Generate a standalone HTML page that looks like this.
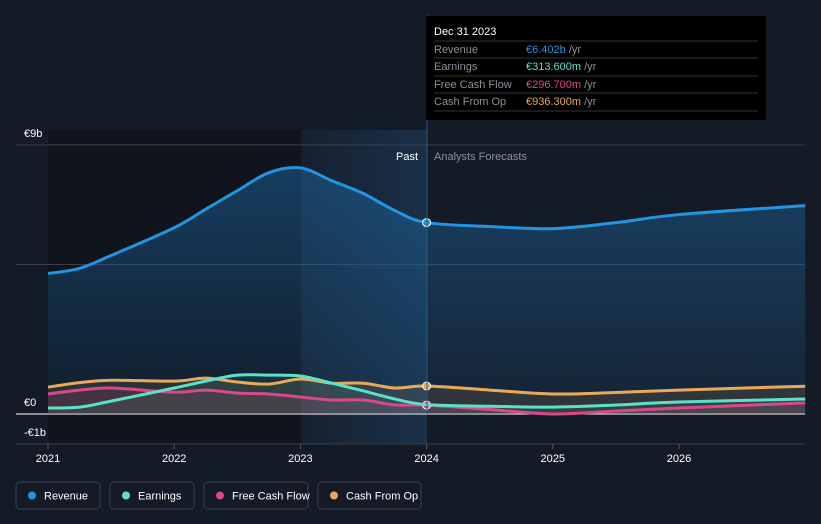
<!DOCTYPE html>
<html><head><meta charset="utf-8"><style>
body{margin:0;background:#151b26;font-family:"Liberation Sans",sans-serif;}
svg{display:block}
</style></head><body>
<svg width="821" height="524" id="chart">
<defs>
<linearGradient id="revg" x1="0" y1="0" x2="0" y2="1"><stop offset="0" stop-color="#1e6fb0" stop-opacity="0.45"/><stop offset="1" stop-color="#1e6fb0" stop-opacity="0.1"/></linearGradient>
<linearGradient id="pastg" x1="0" y1="0" x2="1" y2="0"><stop offset="0" stop-color="#2a7bc0" stop-opacity="0.06"/><stop offset="1" stop-color="#2a7bc0" stop-opacity="0.22"/></linearGradient>
</defs>
<rect x="48" y="130" width="253" height="314" fill="#10141c"/>
<rect x="301" y="130" width="126" height="314" fill="url(#pastg)"/>
<g id="grid"></g>
<g id="areas"></g>
<g id="lines"></g>
<line x1="427" y1="15" x2="427" y2="414" stroke="#2a5a80" stroke-width="1"/>
<text x="418" y="160" fill="#ffffff" font-size="11" text-anchor="end">Past</text>
<text x="434" y="160" fill="#8a909a" font-size="11">Analysts Forecasts</text>
<g>
<rect x="426" y="16" width="340" height="104" fill="#000000"/>
<text x="434" y="35" fill="#fff" font-size="11">Dec 31 2023</text>
<line x1="434" x2="758" y1="41" y2="41" stroke="#333"/>
<text x="434" y="53" fill="#8a909a" font-size="11">Revenue</text><text x="526" y="53" font-size="11" fill="#2394df">€6.402b <tspan fill="#8a909a">/yr</tspan></text>
<line x1="434" x2="758" y1="58" y2="58" stroke="#333"/>
<text x="434" y="70" fill="#8a909a" font-size="11">Earnings</text><text x="526" y="70" font-size="11" fill="#5de0c8">€313.600m <tspan fill="#8a909a">/yr</tspan></text>
<line x1="434" x2="758" y1="76" y2="76" stroke="#333"/>
<text x="434" y="88" fill="#8a909a" font-size="11">Free Cash Flow</text><text x="526" y="88" font-size="11" fill="#d9488a">€296.700m <tspan fill="#8a909a">/yr</tspan></text>
<line x1="434" x2="758" y1="93" y2="93" stroke="#333"/>
<text x="434" y="105" fill="#8a909a" font-size="11">Cash From Op</text><text x="526" y="105" font-size="11" fill="#e8a95a">€936.300m <tspan fill="#8a909a">/yr</tspan></text>
<line x1="434" x2="758" y1="111" y2="111" stroke="#333"/>
</g>
<g id="xaxis"></g>
<g id="legend"></g>
</svg>
<script>
const years=[2021,2021.25,2021.5,2022,2022.25,2022.5,2022.75,2023,2023.25,2023.5,2023.75,2024,2024.5,2025,2025.5,2026,2027];
const revenue=[4.7,4.87,5.3,6.23,6.85,7.47,8.07,8.23,7.8,7.37,6.8,6.402,6.27,6.2,6.4,6.67,6.97];
const earnings=[0.2,0.23,0.43,0.87,1.1,1.3,1.3,1.27,1.03,0.77,0.5,0.3136,0.26,0.23,0.3,0.4,0.5];
const fcf=[0.67,0.8,0.87,0.73,0.8,0.7,0.67,0.57,0.47,0.47,0.3,0.2967,0.15,0.0,0.1,0.2,0.37];
const cfo=[0.9,1.05,1.13,1.1,1.2,1.07,1.0,1.17,1.03,1.03,0.87,0.9363,0.8,0.67,0.72,0.8,0.93];
const yTicks=[9,0,-1];
const yTickLabels=["€9b","€0","-€1b"];
const xTicks=[2021,2022,2023,2024,2025,2026];
const NS="http://www.w3.org/2000/svg";
const X=v=>48+(v-2021)*126.2;
const Y=v=>414-v*29.9;
function el(t,a,p){const e=document.createElementNS(NS,t);for(const k in a)e.setAttribute(k,a[k]);p.appendChild(e);return e;}
const grid=document.getElementById('grid');
[9,5,0,-1].forEach(v=>{const l=el('line',{x1:16,x2:805,y1:Y(v),y2:Y(v),stroke:v===0?'#ffffff':'#3a404a','stroke-width':1},grid);

});
yTicks.forEach((v,i)=>{const t=el('text',{x:24,y:Y(v)-8,fill:'#fff','font-size':11},grid);t.textContent=yTickLabels[i];

});
function smooth(arr){const p=arr.map((v,i)=>[X(years[i]),Y(v)]);let d='M'+p[0].join(',');for(let i=0;i<p.length-1;i++){const p0=p[i-1]||p[i],p1=p[i],p2=p[i+1],p3=p[i+2]||p2;const c1=[p1[0]+(p2[0]-p0[0])/6,p1[1]+(p2[1]-p0[1])/6],c2=[p2[0]-(p3[0]-p1[0])/6,p2[1]-(p3[1]-p1[1])/6];d+='C'+c1.join(',')+' '+c2.join(',')+' '+p2.join(',');}return d;}
const areas=document.getElementById('areas'),lines=document.getElementById('lines');
const series=[[revenue,'#2394df','url(#revg)','revenue'],[cfo,'#e8a95a','rgba(232,169,90,0.12)','cash-from-op'],[fcf,'#d9488a','rgba(217,72,138,0.15)','free-cash-flow'],[earnings,'#5de0c8','rgba(93,224,200,0.08)','earnings']];
series.forEach(s=>{const d=smooth(s[0]);
const a=el('path',{d:d+'L'+X(2027)+','+Y(0)+'L'+X(2021)+','+Y(0)+'Z',fill:s[2]},areas);


const l=el('path',{d:d,fill:'none',stroke:s[1],'stroke-width':3},lines);


const i=years.indexOf(2024);
if(s[3]!=='earnings'){const c=el('circle',{cx:X(2024),cy:Y(s[0][i]),r:4,fill:s[1],stroke:'#fff','stroke-width':1},lines);

}});
const xa=document.getElementById('xaxis');
xTicks.forEach(v=>{const l=el('line',{x1:X(v),x2:X(v),y1:444,y2:449,stroke:'#555'},xa);


const t=el('text',{x:X(v),y:462,fill:'#fff','font-size':11,'text-anchor':'middle'},xa);t.textContent=v;

});
const lg=document.getElementById('legend');
const legendItems=[['Revenue','#2394df',16,84],['Earnings','#5de0c8',110,84],['Free Cash Flow','#d9488a',204,104],['Cash From Op','#e8a95a',318,103]];
legendItems.forEach(it=>{const g=el('g',{},lg);


el('rect',{x:it[2],y:482,width:it[3],height:27,rx:4,fill:'none',stroke:'#3a404a'},g);
el('circle',{cx:it[2]+16,cy:495.5,r:4,fill:it[1]},g);
const t=el('text',{x:it[2]+28,y:499.5,fill:'#fff','font-size':11},g);t.textContent=it[0];});
</script>
</body></html>
